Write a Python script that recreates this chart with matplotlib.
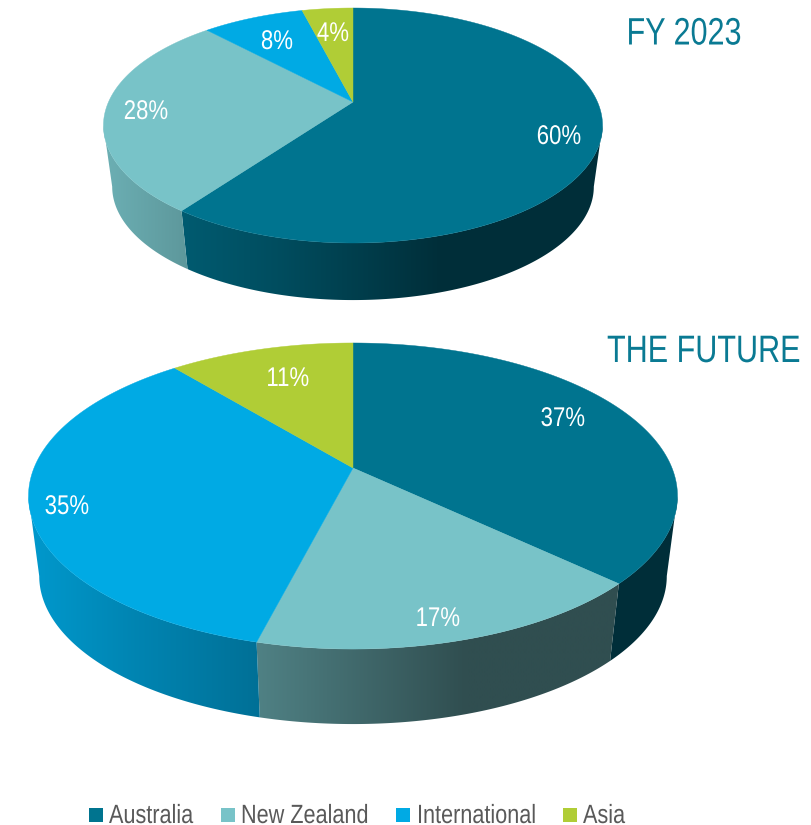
import numpy as np
import matplotlib
matplotlib.use("Agg")
import matplotlib.pyplot as plt
from matplotlib.colors import to_rgb
from matplotlib.patches import Polygon, Rectangle
from matplotlib.patheffects import AbstractPathEffect
from matplotlib.transforms import Affine2D

plt.rcParams['font.family'] = ['Liberation Sans', 'DejaVu Sans']

categories = ['Australia', 'New Zealand', 'International', 'Asia']
colors = ['#00748f', '#78c3c8', '#00aae4', '#b0cd36']
fy2023 = [60, 28, 8, 4]
future = [37, 17, 35, 11]

TEAL = '#0a7a93'
NARROW = 0.82
# how dark the wall gets from left (-1) to right (+1) of the disc
shade_x = [-1, -0.67, -0.29, 0.35, 1]
shade_f = [0.9, 0.78, 0.66, 0.4, 0.4]


class Squeeze(AbstractPathEffect):
    # no narrow font installed, so squeeze the text sideways around x0
    def __init__(self, x0, sx=NARROW):
        super().__init__()
        self.x0 = x0
        self.sx = sx

    def draw_path(self, renderer, gc, tpath, affine, rgbFace=None):
        squeeze = Affine2D().translate(-self.x0, 0).scale(self.sx, 1).translate(self.x0, 0)
        renderer.draw_path(gc, tpath, affine + squeeze, rgbFace)


def narrow_text(ax, x, y, s, ha='center', sx=NARROW, **kw):
    t = ax.text(x, y, s, ha=ha, va='baseline', **kw)
    t.set_path_effects([Squeeze(x, sx)])
    return t


def project(theta, cfg, lower=False):
    # theta clockwise from 12 o'clock, perspective view of the unit circle
    X = np.sin(theta)
    Y = np.cos(theta)
    w = 1 + cfg['k'] * Y
    x = cfg['a'] * X / w
    y = -cfg['b'] * Y / w
    if lower:
        return cfg['cx'] + cfg['s'] * x, cfg['cy'] + cfg['dy'] + cfg['s'] * y
    return cfg['cx'] + x, cfg['cy'] + y


def draw_pie(ax, values, cfg):
    edges = np.cumsum([0] + list(values)) / sum(values) * 2 * np.pi
    # only the front of the wall shows, between the two side tangents
    front0 = np.arccos(-cfg['k'])
    front1 = 2 * np.pi - front0
    xs = np.linspace(cfg['cx'] - cfg['hw'], cfg['cx'] + cfg['hw'], 400)
    shade = np.interp((xs - cfg['cx']) / cfg['hw'], shade_x, shade_f)
    y0 = cfg['cy'] - cfg['b']
    y1 = cfg['cy'] + cfg['dy'] + cfg['b'] * 1.7
    for i, val in enumerate(values):
        t0 = max(edges[i], front0)
        t1 = min(edges[i + 1], front1)
        if t1 <= t0:
            continue
        t = np.linspace(t0, t1, 200)
        xt, yt = project(t, cfg)
        xb, yb = project(t, cfg, lower=True)
        outline = np.c_[np.r_[xt, xb[::-1]], np.r_[yt, yb[::-1]]]
        grad = np.array(to_rgb(colors[i])) * shade[:, None]
        im = ax.imshow(grad[None, :, :], extent=[xs[0], xs[-1], y1, y0],
                       aspect='auto', interpolation='bilinear', zorder=1)
        clip = Polygon(outline, closed=True, transform=ax.transData)
        im.set_clip_path(clip)
    for i, val in enumerate(values):
        t = np.linspace(edges[i], edges[i + 1], 200)
        x, y = project(t, cfg)
        ax.fill(np.r_[cfg['cx'], x], np.r_[cfg['cy'], y], color=colors[i], lw=0.3, zorder=2)


top_cfg = dict(cx=353, cy=102, a=244.5, b=112.8, k=0.2, s=0.965, dy=62, hw=250)
low_cfg = dict(cx=353, cy=468, a=319, b=147.9, k=0.183, s=0.967, dy=81, hw=325)

fig = plt.figure(figsize=(8.12, 8.25), dpi=100)
ax = fig.add_axes([0, 0, 1, 1])

draw_pie(ax, fy2023, top_cfg)
draw_pie(ax, future, low_cfg)

ax.set_xlim(0, 812)
ax.set_ylim(825, 0)
ax.axis('off')

top_labels = [(559, 144), (146, 119), (277, 49), (333, 41)]
low_labels = [(563, 426), (438, 626), (67, 514), (288, 386)]
for vals, spots in ((fy2023, top_labels), (future, low_labels)):
    for v, (x, y) in zip(vals, spots):
        narrow_text(ax, x, y, f'{v}%', color='white', fontsize=19.5, zorder=3)

narrow_text(ax, 684, 44.5, 'FY 2023', sx=0.8, color=TEAL, fontsize=27.5)
narrow_text(ax, 801, 362, 'THE FUTURE', ha='right', sx=0.8, color=TEAL, fontsize=27.5)

legend_box_x = [89, 221, 396, 563]
legend_text_x = [109, 241, 417, 583]
for c, n, bx, tx in zip(colors, categories, legend_box_x, legend_text_x):
    ax.add_patch(Rectangle((bx, 808), 14, 14, color=c, lw=0))
    narrow_text(ax, tx, 823, n, ha='left', color='#595959', fontsize=19)

fig.savefig('out.png', dpi=100)
